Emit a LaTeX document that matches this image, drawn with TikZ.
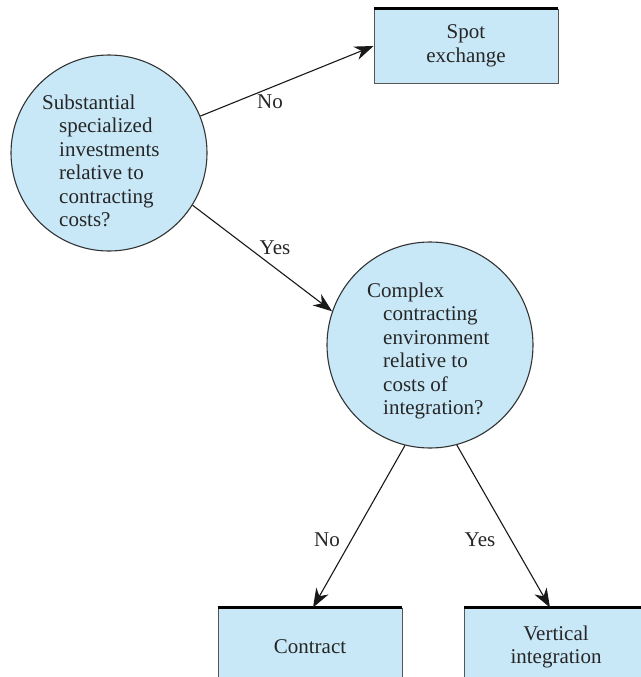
\documentclass[tikz,border=0pt]{standalone}
\usepackage{fontspec}
\setmainfont{Liberation Serif}
\usetikzlibrary{arrows.meta}
\definecolor{boxfill}{HTML}{C8E8F8}
\definecolor{edge}{HTML}{333333}
\definecolor{sideedge}{HTML}{555555}
\tikzset{
  qcircle/.style={circle,draw=edge,line width=1.1pt,fill=boxfill,inner sep=0pt},
  outbox/.style={rectangle,draw=sideedge,line width=0.9pt,fill=boxfill,inner sep=0pt,minimum width=184pt},
  topedge/.style={draw=black,line width=2.2pt},
  txt/.style={font=\fontsize{21}{23.5}\selectfont,inner sep=0pt,text=black!85},
  conn/.style={draw=black!90,line width=1.1pt,-{Stealth[length=19pt,width=14pt,inset=6pt]}},
  lbl/.style={font=\fontsize{21}{23.5}\selectfont,inner sep=0pt,text=black!85}
}
\begin{document}
\begin{tikzpicture}[x=1pt,y=-1pt]
\useasboundingbox[fill=white] (0,0) rectangle (640,677);
% question circles
\node[qcircle,minimum size=196pt] (c1) at (109,153) {};
\node[qcircle,minimum size=206pt] (c2) at (430,345) {};
\node[txt,align=left,anchor=west] (t1) at (42,161) {Substantial\\\hspace*{17pt}specialized\\\hspace*{17pt}investments\\\hspace*{17pt}relative to\\\hspace*{17pt}contracting\\\hspace*{17pt}costs?};
\node[txt,align=left,anchor=west] (t2) at (367,351) {Complex\\\hspace*{16pt}contracting\\\hspace*{16pt}environment\\\hspace*{16pt}relative to\\\hspace*{16pt}costs of\\\hspace*{16pt}integration?};
% outcome boxes
\node[outbox,minimum height=74pt,txt,align=center] (spot) at (466,46) {Spot\\exchange};
\draw[topedge] (spot.north west) -- (spot.north east);
\node[outbox,minimum height=90pt] (contract) at (310,653) {};
\node[txt] (tcontract) at (310,647) {Contract};
\draw[topedge] (contract.north west) -- (contract.north east);
\node[outbox,minimum height=90pt] (vert) at (556,653) {};
\node[txt,align=center] (tvert) at (556,647) {Vertical\\integration};
\draw[topedge] (vert.north west) -- (vert.north east);
% connectors
\draw[conn] (c1.22) -- (spot.west);
\draw[conn] (c1.-32) -- (c2.161);
\draw[conn] (c2.-104) -- ([xshift=3pt]contract.north);
\draw[conn] (c2.-75) -- ([xshift=-6pt]vert.north);
% labels
\node[lbl] (lno1) at (270,102) {No};
\node[lbl] (lyes1) at (275,248) {Yes};
\node[lbl] (lno2) at (327,540) {No};
\node[lbl] (lyes2) at (480,540) {Yes};
\end{tikzpicture}
\end{document}
